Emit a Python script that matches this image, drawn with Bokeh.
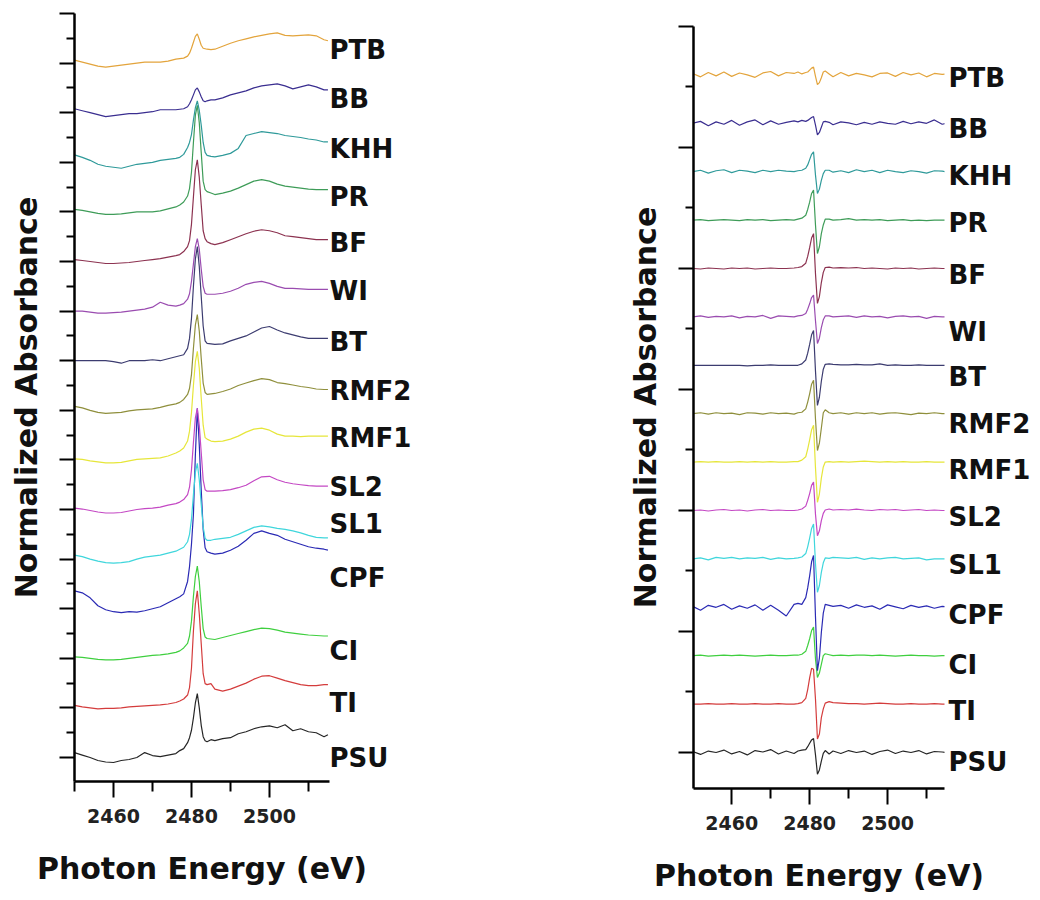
from bokeh.plotting import figure
from bokeh.layouts import row
from bokeh.models import FixedTicker, LinearAxis, Range1d
from bokeh.embed import file_html
from bokeh.resources import INLINE

# ---------------- data ----------------
energy = [2450, 2452, 2454, 2456, 2458, 2460, 2462, 2464, 2466, 2468, 2470, 2472, 2474, 2476,
          2477, 2478, 2479,
          2479.5, 2480, 2480.5, 2481, 2481.5, 2482, 2482.5, 2483, 2483.5, 2484,
          2485, 2486,
          2488, 2490, 2492, 2494, 2496, 2498, 2500, 2502, 2504, 2506, 2508, 2510, 2512, 2514,
          2515]

samples = ["PSU", "TI", "CI", "CPF", "SL1", "SL2", "RMF1", "RMF2", "BT", "WI", "BF", "PR", "KHH", "BB", "PTB"]

# normalized absorbance (left panel), each relative to its own stacking level
xanes_psu = [0.10,0.05,0.00,-0.06,-0.09,-0.10,-0.06,-0.04,0.00,0.10,0.04,0.02,0.05,0.08, 0.14,0.18,0.30,
             0.40,0.55,0.80,1.10,1.29,1.00,0.65,0.42,0.34,0.32, 0.36,0.34,
             0.38,0.40,0.48,0.52,0.58,0.62,0.64,0.60,0.66,0.54,0.58,0.52,0.50,0.42, 0.46]
xanes_ti = [0.05,0.02,0.00,-0.02,-0.01,-0.01,0.00,0.02,0.03,0.04,0.05,0.06,0.08,0.11, 0.14,0.18,0.26,
            0.41,0.80,1.55,2.10,2.36,1.90,1.30,0.69,0.49,0.47, 0.49,0.38,
            0.34,0.38,0.44,0.50,0.58,0.64,0.65,0.60,0.55,0.51,0.47,0.45,0.45,0.47, 0.47]
xanes_ci = [0.03,0.02,0.00,-0.02,-0.03,-0.03,-0.02,0.00,0.02,0.04,0.06,0.07,0.09,0.12, 0.15,0.21,0.30,
            0.45,0.75,1.25,1.65,1.86,1.55,1.05,0.60,0.43,0.40, 0.39,0.38,
            0.42,0.46,0.50,0.54,0.58,0.61,0.60,0.57,0.53,0.51,0.49,0.47,0.46,0.45, 0.45]
xanes_cpf = [0.36,0.32,0.22,0.06,-0.02,-0.06,-0.08,-0.06,-0.07,-0.04,0.00,0.04,0.12,0.20, 0.24,0.30,0.55,
             0.85,1.30,1.90,3.10,4.04,3.30,2.40,1.60,1.23,1.15, 1.12,1.10,
             1.12,1.18,1.26,1.38,1.52,1.57,1.52,1.48,1.40,1.35,1.30,1.25,1.22,1.20, 1.18]
xanes_sl1 = [0.08,0.05,0.00,-0.04,-0.07,-0.08,-0.07,-0.05,0.00,0.04,0.06,0.08,0.12,0.16, 0.20,0.24,0.35,
             0.50,0.80,1.30,1.75,1.93,1.60,1.10,0.65,0.42,0.38, 0.38,0.40,
             0.42,0.44,0.50,0.57,0.64,0.67,0.65,0.62,0.60,0.57,0.53,0.48,0.44,0.43, 0.43]
xanes_sl2 = [0.03,0.01,-0.02,-0.05,-0.07,-0.07,-0.06,-0.03,0.00,0.02,0.03,0.05,0.09,0.12, 0.15,0.20,0.30,
             0.45,0.80,1.35,1.85,2.04,1.70,1.15,0.60,0.40,0.37, 0.37,0.37,
             0.38,0.40,0.44,0.49,0.58,0.66,0.67,0.60,0.55,0.52,0.50,0.48,0.47,0.47, 0.47]
xanes_rmf1 = [0.02,0.01,-0.02,-0.04,-0.06,-0.06,-0.05,-0.02,0.01,0.02,0.03,0.04,0.08,0.14, 0.18,0.24,0.38,
              0.58,0.95,1.50,1.98,2.19,1.85,1.25,0.70,0.45,0.42, 0.38,0.37,
              0.38,0.42,0.48,0.56,0.62,0.64,0.60,0.52,0.48,0.48,0.47,0.48,0.48,0.48, 0.48]
xanes_rmf2 = [0.08,0.05,0.00,-0.04,-0.06,-0.05,-0.04,-0.01,0.01,0.02,0.03,0.06,0.10,0.13, 0.16,0.22,0.32,
              0.44,0.72,1.25,1.72,1.93,1.60,1.05,0.55,0.36,0.32, 0.33,0.34,
              0.38,0.43,0.50,0.55,0.60,0.64,0.62,0.56,0.54,0.51,0.48,0.46,0.43,0.42, 0.42]
xanes_bt = [0.00,0.00,0.00,0.00,0.00,-0.02,-0.05,0.00,0.00,0.00,0.02,0.00,0.04,0.08, 0.10,0.12,0.25,
            0.45,0.85,1.50,2.05,2.30,1.90,1.30,0.70,0.40,0.35, 0.34,0.33,
            0.34,0.40,0.45,0.50,0.58,0.66,0.69,0.62,0.56,0.52,0.48,0.45,0.45,0.45, 0.45]
xanes_wi = [0.00,0.00,-0.02,-0.04,-0.04,-0.03,-0.02,0.00,0.02,0.04,0.08,0.18,0.12,0.10, 0.12,0.15,0.24,
            0.35,0.60,0.95,1.30,1.46,1.25,0.85,0.50,0.36,0.34, 0.34,0.34,
            0.36,0.40,0.46,0.54,0.58,0.60,0.56,0.50,0.46,0.46,0.45,0.44,0.44,0.44, 0.44]
xanes_bf = [0.04,0.02,0.00,-0.02,-0.04,-0.04,-0.03,-0.02,0.00,0.02,0.04,0.06,0.09,0.12, 0.14,0.20,0.30,
            0.42,0.75,1.30,1.85,2.05,1.70,1.15,0.62,0.46,0.40, 0.36,0.34,
            0.38,0.44,0.50,0.56,0.61,0.64,0.62,0.58,0.52,0.50,0.48,0.46,0.44,0.44, 0.44]
xanes_pr = [0.05,0.03,0.00,-0.03,-0.05,-0.05,-0.04,-0.02,0.00,0.00,0.00,0.02,0.06,0.10, 0.14,0.20,0.32,
            0.47,0.80,1.40,1.95,2.15,1.80,1.20,0.62,0.45,0.41, 0.38,0.35,
            0.38,0.42,0.48,0.55,0.62,0.65,0.62,0.56,0.52,0.50,0.48,0.46,0.45,0.45, 0.45]
xanes_khh = [0.15,0.10,0.04,-0.04,-0.08,-0.10,-0.12,-0.08,-0.04,-0.02,0.00,0.04,0.06,0.08, 0.10,0.16,0.30,
             0.40,0.56,0.85,1.10,1.24,1.05,0.75,0.40,0.20,0.14, 0.12,0.11,
             0.14,0.18,0.28,0.54,0.58,0.62,0.60,0.58,0.54,0.52,0.50,0.47,0.45,0.41, 0.41]
xanes_bb = [0.08,0.04,0.00,-0.04,-0.08,-0.06,-0.04,-0.02,-0.02,0.00,0.02,0.06,0.06,0.06, 0.07,0.08,0.12,
            0.18,0.26,0.36,0.46,0.50,0.42,0.32,0.24,0.22,0.24, 0.26,0.26,
            0.30,0.36,0.40,0.44,0.50,0.54,0.56,0.58,0.54,0.48,0.52,0.56,0.52,0.46, 0.46]
xanes_ptb = [0.06,0.02,-0.02,-0.06,-0.08,-0.06,-0.04,-0.02,0.00,0.02,0.02,0.02,0.04,0.08, 0.09,0.10,0.14,
             0.20,0.30,0.42,0.54,0.59,0.48,0.36,0.30,0.29,0.28, 0.27,0.28,
             0.34,0.40,0.45,0.49,0.53,0.56,0.59,0.61,0.56,0.55,0.56,0.57,0.55,0.47, 0.45]

# first derivative (right panel), each relative to its own stacking level
deriv_psu = [0.02,-0.04,0.03,0.00,0.05,-0.03,0.02,-0.05,0.04,0.01,0.06,-0.03,0.03,-0.02, 0.03,0.05,0.06,
             0.12,0.19,0.26,0.29,-0.05,-0.45,-0.36,-0.18,-0.02,0.04, -0.03,0.03,
             -0.02,0.04,0.00,0.03,-0.04,0.02,0.05,-0.02,0.03,0.00,0.04,-0.03,0.02,0.01, 0.00]
deriv_ti = [0.00,0.00,0.01,0.00,0.00,0.01,0.00,0.00,0.01,0.00,0.00,0.01,0.00,0.00, 0.01,0.03,0.12,
            0.30,0.54,0.74,0.72,0.10,-0.72,-0.62,-0.28,-0.10,0.02, 0.05,0.03,
            0.02,0.01,0.01,0.00,0.01,0.02,0.01,0.00,0.00,0.01,0.00,0.00,0.01,0.00, 0.00]
deriv_ci = [0.00,0.01,-0.01,0.00,0.01,0.00,0.01,0.00,-0.01,0.00,0.01,0.00,0.00,0.01, 0.01,0.03,0.09,
            0.21,0.35,0.52,0.59,-0.07,-0.45,-0.36,-0.18,0.00,0.04, 0.02,0.00,
            0.01,0.00,0.01,0.01,0.00,0.01,0.00,-0.01,0.00,0.01,0.00,0.00,-0.01,0.00, 0.00]
deriv_cpf = [0.02,-0.06,0.04,0.00,0.06,-0.04,0.03,-0.02,0.05,-0.06,0.04,-0.06,-0.18,0.06, 0.08,0.06,0.20,
             0.40,0.65,0.94,1.07,-0.20,-1.31,-1.05,-0.52,-0.12,0.06, 0.04,0.02,
             0.04,-0.02,0.05,0.00,0.03,-0.04,0.05,0.01,-0.03,0.04,0.00,0.03,-0.02,0.02, 0.01]
deriv_sl1 = [0.00,0.02,-0.02,0.03,0.01,0.03,0.00,0.02,0.01,0.03,-0.01,0.02,0.00,0.01, 0.02,0.04,0.11,
             0.25,0.43,0.63,0.72,-0.10,-0.69,-0.55,-0.28,-0.08,0.02, 0.01,0.03,
             0.02,0.01,0.03,-0.01,0.02,0.00,0.02,0.03,0.00,0.01,0.02,-0.02,0.00,0.00, 0.00]
deriv_sl2 = [0.00,0.01,-0.01,0.01,0.02,0.00,0.01,-0.01,0.01,0.02,0.00,0.01,0.00,0.00, 0.01,0.03,0.09,
             0.21,0.35,0.52,0.59,-0.08,-0.52,-0.42,-0.21,-0.06,0.01, 0.03,0.01,
             0.02,0.01,0.03,0.01,0.00,0.02,0.01,0.02,0.00,0.01,0.02,0.00,0.01,0.00, 0.00]
deriv_rmf1 = [0.00,0.01,0.00,0.01,0.00,0.00,0.01,0.00,0.01,0.00,0.01,0.00,0.00,0.01, 0.01,0.04,0.11,
              0.27,0.46,0.67,0.76,-0.12,-0.83,-0.66,-0.33,-0.10,0.00, 0.01,0.00,
              0.01,0.00,0.01,0.02,0.01,0.00,0.01,0.00,0.01,0.00,0.00,0.01,0.00,0.00, 0.00]
deriv_rmf2 = [0.00,0.02,-0.01,0.02,0.00,0.01,-0.02,0.02,0.01,-0.01,0.02,0.00,0.01,-0.01, 0.02,0.03,0.10,
              0.24,0.41,0.61,0.69,-0.11,-0.76,-0.61,-0.30,0.02,0.08, 0.02,0.00,
              0.02,-0.01,0.02,0.00,0.02,-0.01,0.01,0.02,0.00,-0.02,0.01,0.00,0.02,0.00, 0.00]
deriv_bt = [0.00,0.00,0.00,0.00,0.00,0.00,0.00,-0.01,0.00,0.00,0.01,0.00,0.00,0.00, 0.00,0.03,0.11,
            0.25,0.43,0.63,0.72,-0.12,-0.83,-0.66,-0.33,-0.08,0.02, 0.03,0.02,
            0.01,0.01,0.02,0.01,0.01,0.03,0.00,0.01,0.00,0.00,0.01,0.00,0.00,0.00, 0.00]
deriv_wi = [0.00,0.02,-0.01,0.01,0.00,0.02,-0.02,0.01,0.00,0.03,-0.03,0.02,0.01,0.00, 0.02,0.03,0.07,
            0.16,0.27,0.40,0.45,-0.08,-0.55,-0.44,-0.22,-0.06,0.02, 0.02,0.00,
            0.01,0.02,-0.01,0.02,0.00,0.01,-0.02,0.01,0.02,0.00,0.01,-0.03,0.01,0.00, 0.00]
deriv_bf = [0.00,-0.01,0.01,0.00,-0.01,0.01,0.00,0.01,-0.01,0.00,0.01,0.00,0.00,0.01, 0.02,0.04,0.11,
            0.25,0.43,0.63,0.72,-0.11,-0.72,-0.58,-0.29,-0.08,0.02, 0.03,0.01,
            0.02,0.01,0.02,0.00,0.01,0.00,-0.01,0.01,0.00,0.01,-0.01,0.00,0.01,0.00, 0.00]
deriv_pr = [0.00,0.01,-0.01,0.00,0.01,0.00,-0.01,0.01,0.00,0.01,-0.01,0.00,0.01,0.00, 0.02,0.04,0.10,
            0.22,0.37,0.55,0.62,-0.10,-0.69,-0.55,-0.28,-0.10,0.02, 0.02,0.00,
            0.01,0.03,0.00,0.01,0.00,0.01,-0.01,0.00,0.01,-0.01,0.00,-0.01,0.00,0.00, 0.00]
deriv_khh = [0.00,0.03,-0.03,0.02,0.04,-0.02,0.03,0.01,-0.02,0.03,0.00,0.03,0.01,0.00, 0.02,0.03,0.07,
             0.14,0.25,0.36,0.41,-0.07,-0.45,-0.36,-0.18,-0.04,0.03, 0.03,-0.01,
             0.02,-0.02,0.04,0.00,0.03,-0.02,0.03,0.00,-0.02,0.02,0.00,-0.03,0.02,0.01, 0.00]
deriv_bb = [0.00,0.04,-0.05,0.03,-0.02,0.06,-0.04,0.03,0.07,-0.03,0.05,-0.02,0.02,0.05, 0.03,0.06,0.04,
            0.06,0.09,0.12,0.14,-0.04,-0.24,-0.19,-0.08,0.03,0.04, 0.02,-0.03,
            0.03,0.01,-0.03,0.02,-0.02,0.03,0.00,-0.02,0.04,-0.01,0.03,0.00,0.07,-0.02, 0.00]
deriv_ptb = [0.03,-0.04,0.05,-0.02,0.06,-0.03,0.04,0.00,-0.05,0.04,0.07,-0.02,0.05,0.03, 0.06,0.02,0.05,
             0.06,0.10,0.14,0.16,-0.03,-0.20,-0.16,-0.06,0.06,0.08, 0.02,-0.04,
             0.05,-0.02,0.03,0.00,-0.04,0.03,0.04,-0.03,0.05,0.00,0.04,-0.04,0.03,0.01, 0.02]

xanes = {"PSU": xanes_psu, "TI": xanes_ti, "CI": xanes_ci, "CPF": xanes_cpf, "SL1": xanes_sl1,
         "SL2": xanes_sl2, "RMF1": xanes_rmf1, "RMF2": xanes_rmf2, "BT": xanes_bt, "WI": xanes_wi,
         "BF": xanes_bf, "PR": xanes_pr, "KHH": xanes_khh, "BB": xanes_bb, "PTB": xanes_ptb}
deriv = {"PSU": deriv_psu, "TI": deriv_ti, "CI": deriv_ci, "CPF": deriv_cpf, "SL1": deriv_sl1,
         "SL2": deriv_sl2, "RMF1": deriv_rmf1, "RMF2": deriv_rmf2, "BT": deriv_bt, "WI": deriv_wi,
         "BF": deriv_bf, "PR": deriv_pr, "KHH": deriv_khh, "BB": deriv_bb, "PTB": deriv_ptb}

for tbl_name, tbl in (("xanes", xanes), ("deriv", deriv)):
    for k, v in tbl.items():
        if len(v) != len(energy):
            raise ValueError(f"{tbl_name} {k}: {len(v)} values, expected {len(energy)}")

# ---------------- styling / layout ----------------
colors = {"PSU": "#262626", "TI": "#d43c3c", "CI": "#3fcf3f", "CPF": "#2a2ab4", "SL1": "#3fd6dc",
          "SL2": "#c448c4", "RMF1": "#e6e63a", "RMF2": "#8f8f3c", "BT": "#3c3c70", "WI": "#9a4cb0",
          "BF": "#8c3250", "PR": "#3e9c58", "KHH": "#2f9a9a", "BB": "#3a2e90", "PTB": "#e3a43c"}

label_y_left = {"PTB": 14.27, "BB": 13.28, "KHH": 12.27, "PR": 11.30, "BF": 10.38, "WI": 9.40,
                "BT": 8.37, "RMF2": 7.38, "RMF1": 6.44, "SL2": 5.45, "SL1": 4.70, "CPF": 3.62,
                "CI": 2.15, "TI": 1.10, "PSU": 0.0}
label_y_right = {"PTB": 13.94, "BB": 12.89, "KHH": 11.92, "PR": 10.93, "BF": 9.86, "WI": 8.68,
                 "BT": 7.75, "RMF2": 6.78, "RMF1": 5.83, "SL2": 4.86, "SL1": 3.88, "CPF": 2.85,
                 "CI": 1.80, "TI": 0.85, "PSU": -0.20}

FONT = "DejaVu Sans"


def make_panel(table, x_rng, y_rng, y_major, y_minor, label_pos, width, height, b_left, b_right,
               b_top, b_bottom, lab_standoff, ylab_standoff):
    p = figure(width=width, height=height, x_range=Range1d(*x_rng), y_range=Range1d(*y_rng),
               output_backend="svg", toolbar_location=None, title=None,
               min_border_left=b_left, min_border_right=b_right,
               min_border_top=b_top, min_border_bottom=b_bottom)
    p.frame_align = False
    p.outline_line_color = None
    p.xgrid.visible = False
    p.ygrid.visible = False
    p.background_fill_color = "white"
    p.border_fill_color = "white"

    for i, name in enumerate(samples):
        ys = [v + i for v in table[name]]
        p.line(energy, ys, line_color=colors[name], line_width=1.2)

    xa = p.xaxis[0]
    xa.ticker = FixedTicker(ticks=[2460, 2480, 2500], minor_ticks=[2450, 2470, 2490, 2510])
    xa.axis_line_width = 2.5
    xa.axis_line_color = "black"
    xa.major_tick_line_width = 2
    xa.minor_tick_line_width = 2
    xa.major_tick_line_color = "black"
    xa.minor_tick_line_color = "black"
    xa.major_tick_in = 0
    xa.major_tick_out = 16
    xa.minor_tick_in = 0
    xa.minor_tick_out = 10
    xa.major_label_text_font = FONT
    xa.major_label_text_font_size = "19px"
    xa.major_label_text_font_style = "bold"
    xa.major_label_text_color = "#222222"
    xa.major_label_standoff = 11
    xa.axis_label = "Photon Energy (eV)"
    xa.axis_label_text_font = FONT
    xa.axis_label_text_font_size = "30px"
    xa.axis_label_text_font_style = "bold"
    xa.axis_label_text_color = "#111111"
    xa.axis_label_standoff = 25

    ya = p.yaxis[0]
    ya.ticker = FixedTicker(ticks=y_major, minor_ticks=y_minor)
    ya.axis_line_width = 2.5
    ya.axis_line_color = "black"
    ya.major_tick_line_width = 2
    ya.minor_tick_line_width = 2
    ya.major_tick_line_color = "black"
    ya.minor_tick_line_color = "black"
    ya.major_tick_in = 0
    ya.major_tick_out = 15
    ya.minor_tick_in = 0
    ya.minor_tick_out = 8
    ya.major_label_overrides = {t: "" for t in y_major}
    ya.major_label_standoff = 0
    ya.axis_label = "Normalized Absorbance"
    ya.axis_label_text_font = FONT
    ya.axis_label_text_font_size = "30px"
    ya.axis_label_text_font_style = "bold"
    ya.axis_label_text_color = "#111111"
    ya.axis_label_standoff = ylab_standoff

    ticks = [label_pos[n] for n in samples]
    lab = LinearAxis(ticker=FixedTicker(ticks=ticks, minor_ticks=[]),
                     major_label_overrides={label_pos[n]: n for n in samples})
    lab.axis_line_color = None
    lab.major_tick_line_color = None
    lab.minor_tick_line_color = None
    lab.major_tick_out = 0
    lab.major_tick_in = 0
    lab.major_label_standoff = lab_standoff
    lab.major_label_text_font = FONT
    lab.major_label_text_font_size = "26px"
    lab.major_label_text_font_style = "bold"
    lab.major_label_text_color = "#111111"
    p.add_layout(lab, "right")
    return p


left_major = [float(v) for v in range(0, 16)]
left_minor = [v + 0.5 for v in range(0, 15)]
right_major = [0.0, 2.5, 5.0, 7.5, 10.0, 12.5, 15.0]
right_minor = [1.25, 3.75, 6.25, 8.75, 11.25, 13.75]

p1 = make_panel(xanes, (2450.0, 2515.4), (-0.483, 15.0), left_major, left_minor, label_y_left,
                width=623, height=891, b_left=74, b_right=294, b_top=13, b_bottom=110,
                lab_standoff=0, ylab_standoff=16)
p2 = make_panel(deriv, (2450.2, 2514.6), (-0.744, 15.0), right_major, right_minor, label_y_right,
                width=411, height=898, b_left=70, b_right=90, b_top=26, b_bottom=110,
                lab_standoff=4, ylab_standoff=16)

layout = row(p1, p2)
open("out.html", "w").write(file_html(layout, INLINE))
